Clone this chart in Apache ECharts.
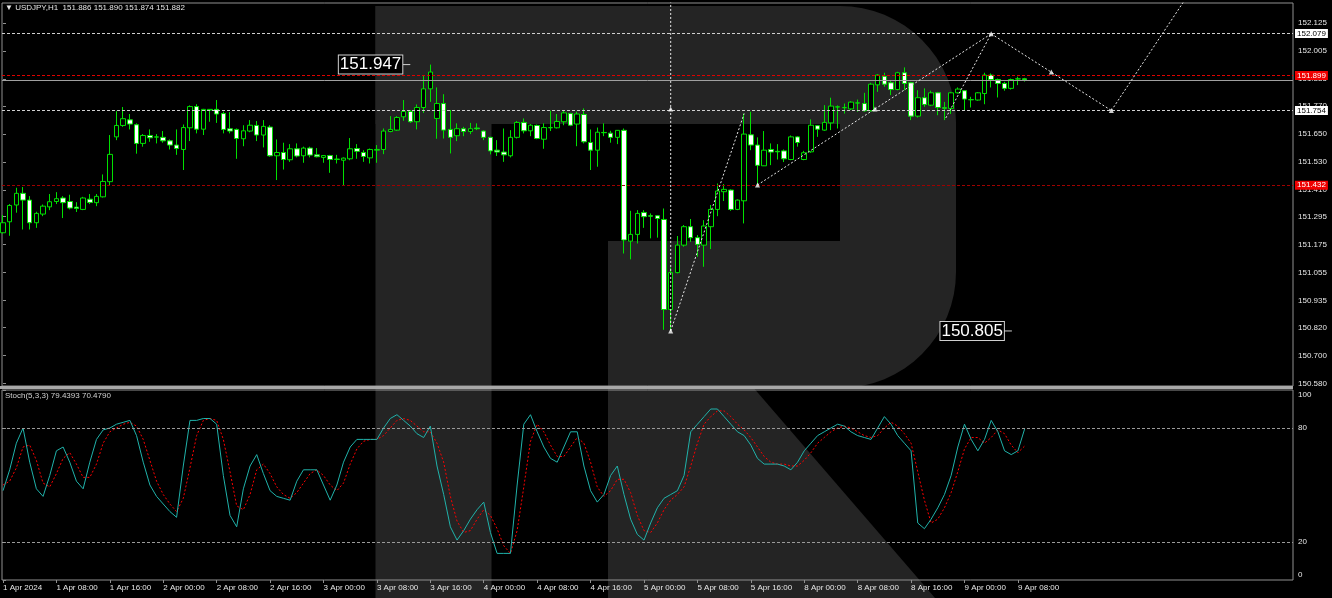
<!DOCTYPE html>
<html><head><meta charset="utf-8">
<script src="https://cdn.jsdelivr.net/npm/echarts@6/dist/echarts.min.js"></script>
<style>html,body{margin:0;padding:0;background:#000}#c{width:1332px;height:598px}</style>
</head><body><div id="c"></div>
<script>
const timeLabels = ['1 Apr 2024','1 Apr 08:00','1 Apr 16:00','2 Apr 00:00','2 Apr 08:00','2 Apr 16:00','3 Apr 00:00','3 Apr 08:00','3 Apr 16:00','4 Apr 00:00','4 Apr 08:00','4 Apr 16:00','5 Apr 00:00','5 Apr 08:00','5 Apr 16:00','8 Apr 00:00','8 Apr 08:00','8 Apr 16:00','9 Apr 00:00','9 Apr 08:00'];
const timeTickIdx = [0,8,16,24,32,40,48,56,64,72,80,88,96,104,112,120,128,136,144,152];
const priceTicks = [152.125,152.005,151.885,151.770,151.650,151.530,151.410,151.295,151.175,151.055,150.935,150.820,150.700,150.580];
const stochTicks = [100,80,20,0];

const opens = [
151.226,151.273,151.345,151.395,151.366,151.269,151.306,151.337,151.360,151.375,
151.360,151.336,151.326,151.370,151.355,151.380,151.445,151.637,151.686,151.710,
151.689,151.609,151.643,151.637,151.635,151.620,151.602,151.583,151.676,151.767,
151.670,151.752,151.755,151.737,151.672,151.669,151.629,151.662,151.686,151.645,
151.679,151.556,151.570,151.539,151.586,151.556,151.589,151.560,151.549,151.557,
151.540,151.537,151.543,151.587,151.570,151.547,151.580,151.583,151.660,151.666,
151.723,151.746,151.702,151.763,151.843,151.716,151.780,151.669,151.642,151.672,
151.660,151.675,151.662,151.635,151.580,151.572,151.556,151.635,151.699,151.663,
151.686,151.627,151.676,151.676,151.702,151.737,151.692,151.733,151.613,151.580,
151.656,151.653,151.635,151.665,151.190,151.219,151.313,151.299,151.299,151.283,
150.897,151.055,151.173,151.252,151.205,151.173,151.252,151.326,151.402,151.409,
151.326,151.363,151.646,151.602,151.513,151.583,151.575,151.577,151.540,151.637,
151.540,151.573,151.685,151.666,151.697,151.765,151.762,151.757,151.782,151.780,
151.749,151.860,151.897,151.869,151.840,151.912,151.869,151.726,151.805,151.773,
151.826,151.762,151.759,151.826,151.835,151.797,151.795,151.823,151.902,151.883,
151.866,151.845,151.885,151.886];
const highs = [
151.302,151.349,151.419,151.422,151.383,151.316,151.347,151.392,151.400,151.383,
151.389,151.357,151.380,151.392,151.392,151.476,151.645,151.747,151.765,151.735,
151.695,151.649,151.669,151.649,151.662,151.626,151.669,151.690,151.772,151.777,
151.757,151.756,151.795,151.745,151.743,151.673,151.687,151.709,151.705,151.709,
151.687,151.626,151.612,151.606,151.609,151.595,151.595,151.589,151.559,151.560,
151.560,151.549,151.632,151.606,151.580,151.587,151.602,151.673,151.726,151.726,
151.795,151.752,151.776,151.902,151.947,151.849,151.820,151.752,151.695,151.680,
151.697,151.695,151.665,151.637,151.623,151.673,151.666,151.705,151.716,151.692,
151.690,151.695,151.749,151.735,151.749,151.740,151.745,151.759,151.669,151.677,
151.695,151.663,151.666,151.673,151.320,151.323,151.323,151.309,151.302,151.330,
151.077,151.212,151.259,151.285,151.216,151.280,151.345,151.437,151.435,151.412,
151.369,151.737,151.745,151.635,151.662,151.609,151.606,151.583,151.643,151.640,
151.577,151.712,151.687,151.773,151.805,151.772,151.780,151.790,151.797,151.826,
151.869,151.906,151.912,151.877,151.916,151.935,151.873,151.837,151.845,151.835,
151.830,151.787,151.830,151.849,151.837,151.809,151.829,151.912,151.909,151.887,
151.873,151.887,151.895,151.890];
const lows = [
151.223,151.213,151.312,151.240,151.240,151.247,151.297,151.323,151.349,151.289,
151.326,151.315,151.323,151.349,151.340,151.377,151.430,151.623,151.680,151.669,
151.565,151.595,151.616,151.609,151.612,151.583,151.560,151.495,151.619,151.652,
151.645,151.702,151.697,151.652,151.652,151.543,151.597,151.657,151.619,151.592,
151.552,151.452,151.497,151.530,151.549,151.526,151.549,151.549,151.526,151.483,
151.523,151.430,151.537,151.543,151.530,151.523,151.526,151.563,151.657,151.663,
151.706,151.697,151.669,151.740,151.787,151.629,151.630,151.566,151.619,151.640,
151.649,151.666,151.623,151.562,151.555,151.530,151.549,151.630,151.652,151.640,
151.627,151.586,151.662,151.673,151.687,151.683,151.597,151.609,151.495,151.509,
151.640,151.612,151.606,151.137,151.112,151.180,151.247,151.202,151.205,150.810,
150.805,151.052,151.166,151.187,151.123,151.080,151.156,151.297,151.362,151.320,
151.323,151.266,151.580,151.430,151.512,151.516,151.540,151.529,151.537,151.595,
151.537,151.569,151.637,151.663,151.666,151.673,151.737,151.752,151.745,151.745,
151.745,151.830,151.852,151.816,151.837,151.837,151.709,151.720,151.766,151.769,
151.730,151.709,151.735,151.823,151.752,151.763,151.792,151.777,151.849,151.806,
151.835,151.840,151.859,151.874];
const closes = [
151.269,151.343,151.395,151.366,151.269,151.309,151.340,151.359,151.372,151.355,
151.332,151.330,151.375,151.356,151.382,151.446,151.562,151.686,151.715,151.692,
151.609,151.643,151.633,151.636,151.620,151.602,151.587,151.677,151.767,151.670,
151.755,151.755,151.735,151.669,151.662,151.630,151.663,151.687,151.645,151.682,
151.556,151.570,151.540,151.586,151.555,151.589,151.559,151.552,151.557,151.540,
151.542,151.546,151.586,151.575,151.553,151.583,151.583,151.662,151.669,151.720,
151.746,151.702,151.763,151.843,151.915,151.780,151.666,151.635,151.672,151.660,
151.672,151.672,151.635,151.577,151.572,151.560,151.635,151.699,151.663,151.687,
151.630,151.677,151.677,151.703,151.740,151.687,151.735,151.616,151.580,151.657,
151.655,151.635,151.665,151.195,151.219,151.309,151.295,151.297,151.287,150.897,
151.055,151.173,151.252,151.205,151.176,151.255,151.326,151.405,151.412,151.326,
151.366,151.649,151.602,151.515,151.580,151.572,151.573,151.543,151.637,151.613,
151.569,151.687,151.670,151.699,151.769,151.766,151.763,151.786,151.783,151.749,
151.863,151.902,151.863,151.840,151.912,151.866,151.726,151.805,151.776,151.826,
151.763,151.760,151.826,151.842,151.799,151.796,151.826,151.902,151.883,151.866,
151.845,151.883,151.886,151.882];

const stochK = [
47,58,72,80,62,48,44,55,68,70, 62,52,48,62,74,79,80,82,83,84,
76,62,50,44,40,36,33,60,84,84, 85,85,82,55,34,28,48,60,66,56,
47,44,43,42,52,58,58,58,50,42, 50,62,70,74,74,74,74,80,85,87,
84,81,77,75,81,60,45,28,21,26, 32,37,41,25,14,14,14,50,82,87,
78,70,64,62,70,78,78,60,47,41, 45,55,60,45,32,24,21,30,38,43,
45,47,55,78,82,86,90,90,86,82, 78,76,71,64,61,61,61,60,58,62,
68,72,76,78,80,82,81,78,76,75, 74,80,86,82,76,72,68,30,27,32,
38,45,55,70,82,74,68,74,84,78, 68,66,68,79.44];
const stochD = [
50,52,59,70,71,63,51,49,56,64, 67,61,54,54,61,72,78,80,82,83,
81,74,63,52,45,40,36,43,59,76, 84,85,84,74,57,39,37,45,58,61,
56,49,45,43,46,51,56,58,55,50, 47,51,61,69,73,74,74,76,80,84,
85,84,81,78,78,72,62,44,31,25, 26,32,37,34,27,18,14,26,49,73,
82,78,71,65,65,70,75,72,62,49, 44,47,53,53,46,34,26,25,30,37,
42,45,49,60,72,82,86,89,89,86, 82,79,75,70,65,62,61,61,60,60,
63,67,72,75,78,80,81,80,78,76, 75,76,80,83,81,77,72,57,42,30,
32,38,46,57,69,75,75,72,75,79, 77,71,67,70.48];

const levelValues = [152.079, 151.899, 151.754, 151.432];
const bidValue = 151.882;
const priceNotes = [[60.4, 151.947], [150.5, 150.805]];
const forecastSegments = [
  [[100,150.805],[100,152.35]],
  [[100,150.805],[111,151.737]],
  [[113,151.431],[148,152.079]],
  [[141.2,151.718],[148,152.079]],
  [[148,152.079],[166,151.750]],
  [[166,151.750],[182,152.44]]
];
const forecastMarks = [[100,150.805],[100,151.757],[113,151.431],[130.6,151.757],[148,152.079],[157,151.915],[166,151.750]];

const levelStyle = [
  {line:'#d0d0d0', bg:'#ffffff', fg:'#000000'},
  {line:'#e00000', bg:'#f00000', fg:'#ffffff'},
  {line:'#d0d0d0', bg:'#ffffff', fg:'#000000'},
  {line:'#a00000', bg:'#f00000', fg:'#ffffff'}
];
const FONT = 'Liberation Sans, Arial, sans-serif';
const XMIN = -0.15, XMAX = 193.2;

function arcPts(cx, cy, r, a0, a1, n) {
  const pts = [];
  for (let k = 0; k <= n; k++) {
    const a = a0 + (a1 - a0) * k / n;
    pts.push([cx + r * Math.cos(a), cy + r * Math.sin(a)]);
  }
  return pts;
}
const bowl = [[375.5, 6], [840, 6]]
  .concat(arcPts(840, 122, 116, -Math.PI / 2, 0, 16))
  .concat(arcPts(840, 272, 116, 0, Math.PI / 2, 16))
  .concat([[608, 388], [608, 241], [840, 241], [840, 124], [375.5, 124]]);
const leg = [[608, 386], [752, 386], [935, 598], [608, 598]];

const chart = echarts.init(document.getElementById('c'));
const candleData = opens.map((o, i) => [i, o, closes[i], lows[i], highs[i]]);
const tickLabelMap = {};
timeTickIdx.forEach((v, k) => { tickLabelMap[v] = timeLabels[k]; });

const logoColor = '#242424';
const series = [
  {
    type: 'candlestick', xAxisIndex: 0, yAxisIndex: 0, z: 3,
    data: candleData, encode: {x: 0, y: [1, 2, 3, 4]},
    barWidth: 5,
    itemStyle: {color: '#000000', color0: '#ffffff', borderColor: '#00e000', borderColor0: '#00e000', borderWidth: 1},
    markLine: {
      silent: true, symbol: ['none', 'none'], animation: false,
      data: levelValues.map((v, k) => ({
        yAxis: v,
        lineStyle: {color: levelStyle[k].line, type: [3, 2], width: 1},
        label: {show: true, position: 'end', distance: 2, formatter: v.toFixed(3),
          backgroundColor: levelStyle[k].bg, color: levelStyle[k].fg, fontSize: 8, fontFamily: FONT,
          padding: [1, 2, 0, 2]}
      })).concat([{yAxis: bidValue, lineStyle: {color: '#a0a0a0', type: 'solid', width: 1}, label: {show: false}}])
    },
    markPoint: {
      silent: true, animation: false,
      data: priceNotes.map(p => ({
        coord: p, symbol: 'rect', symbolSize: [8, 1], itemStyle: {color: '#d0d0d0'},
        label: {show: true, position: 'left', distance: 0, formatter: p[1].toFixed(3),
          color: '#ffffff', fontSize: 17, fontFamily: FONT, backgroundColor: '#000000',
          borderColor: '#d0d0d0', borderWidth: 1, padding: [1, 1, 0, 1]}
      }))
    }
  },
  {
    type: 'line', xAxisIndex: 1, yAxisIndex: 1, data: stochK.map((v, i) => [i, v]),
    symbol: 'none', lineStyle: {color: '#20b2aa', width: 1}, z: 4,
    markLine: {silent: true, symbol: ['none', 'none'], animation: false, label: {show: false},
      lineStyle: {color: '#9a9a9a', type: [3, 2], width: 1}, data: [{yAxis: 80}, {yAxis: 20}]}
  },
  {
    type: 'line', xAxisIndex: 1, yAxisIndex: 1, data: stochD.map((v, i) => [i, v]),
    symbol: 'none', lineStyle: {color: '#ff0000', width: 1, type: [2, 2]}, z: 3
  }
];
forecastSegments.forEach(seg => {
  series.push({type: 'line', xAxisIndex: 0, yAxisIndex: 0, data: seg, symbol: 'none', clip: true, z: 5,
    lineStyle: {color: '#e8e8e8', width: 1, type: [2, 2]}});
});
series.push({type: 'scatter', xAxisIndex: 0, yAxisIndex: 0, data: forecastMarks, symbol: 'triangle',
  symbolSize: 5, itemStyle: {color: '#ffffff'}, z: 6, silent: true});

const axisTxt = {color: '#e6e6e6', fontSize: 8, fontFamily: FONT};
const option = {
  backgroundColor: '#000000',
  animation: false,
  title: [
    {left: 5, top: 4, padding: 0, text: '▼ USDJPY,H1  151.886 151.890 151.874 151.882',
      textStyle: {color: '#e6e6e6', fontSize: 8, fontWeight: 'normal', fontFamily: FONT}},
    {left: 5, top: 392, padding: 0, text: 'Stoch(5,3,3) 79.4393 70.4790',
      textStyle: {color: '#d0d0d0', fontSize: 8, fontWeight: 'normal', fontFamily: FONT}}
  ],
  graphic: [
    {type: 'rect', z: -10, shape: {x: 375.5, y: 6, width: 116, height: 592}, style: {fill: logoColor}},
    {type: 'polygon', z: -10, shape: {points: bowl}, style: {fill: logoColor}},
    {type: 'polygon', z: -10, shape: {points: leg}, style: {fill: logoColor}},
    {type: 'rect', z: 10, shape: {x: 0, y: 386, width: 1293, height: 3}, style: {fill: '#a8a8a8'}}
  ],
  grid: [
    {left: 2, top: 3, width: 1291, height: 383, show: true, borderColor: '#909090', borderWidth: 1, backgroundColor: 'transparent'},
    {left: 2, top: 390, width: 1291, height: 190, show: true, borderColor: '#909090', borderWidth: 1, backgroundColor: 'transparent'}
  ],
  xAxis: [
    {type: 'value', gridIndex: 0, min: XMIN, max: XMAX, show: false},
    {type: 'value', gridIndex: 1, min: XMIN, max: XMAX,
      axisLine: {show: false}, splitLine: {show: false},
      axisTick: {show: true, customValues: timeTickIdx, length: 3, lineStyle: {color: '#909090'}},
      axisLabel: Object.assign({show: true, customValues: timeTickIdx, formatter: v => tickLabelMap[v] || '', align: 'left',
        margin: 4}, axisTxt)}
  ],
  yAxis: [
    {type: 'value', gridIndex: 0, position: 'right', min: 150.569, max: 152.211, scale: true,
      axisLine: {show: false}, splitLine: {show: false},
      axisTick: {show: true, customValues: priceTicks, length: 3, lineStyle: {color: '#909090'}},
      axisLabel: Object.assign({show: true, customValues: priceTicks, formatter: v => v.toFixed(3), margin: 5}, axisTxt)},
    {type: 'value', gridIndex: 1, position: 'right', min: 0, max: 100,
      axisLine: {show: false}, splitLine: {show: false},
      axisTick: {show: true, customValues: stochTicks, length: 3, lineStyle: {color: '#909090'}},
      axisLabel: Object.assign({show: true, customValues: stochTicks, margin: 5,
        formatter: v => v === 100 ? '{t|100}' : (v === 0 ? '{b|0}' : '{m|' + v + '}'),
        rich: {t: Object.assign({padding: [10, 0, 0, 0]}, axisTxt), b: Object.assign({padding: [0, 0, 10, 0]}, axisTxt), m: Object.assign({}, axisTxt)}
      }, axisTxt)}
  ],
  series: series
};
chart.setOption(option);
</script>
</body></html>
